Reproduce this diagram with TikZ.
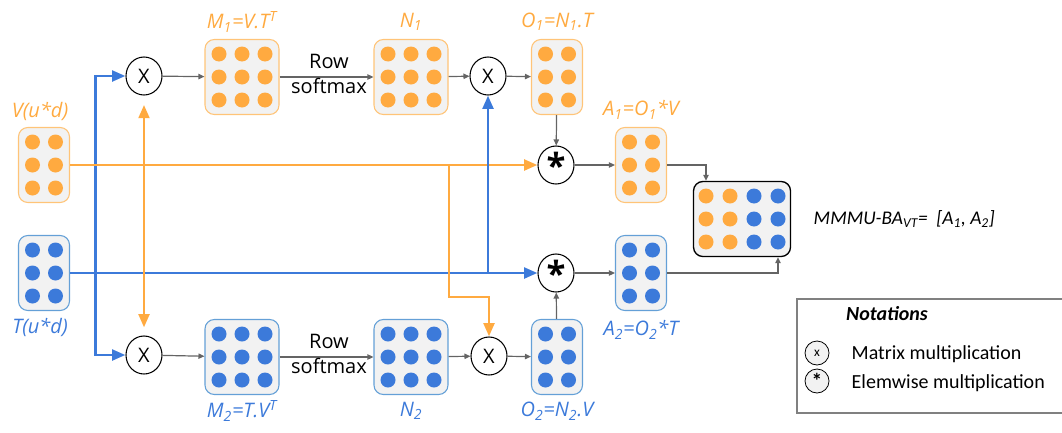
\documentclass[tikz,border=0pt]{standalone}
\usepackage{fontspec}
\setmainfont{Open Sans}
\newfontfamily\legendfont{Carlito}
\usetikzlibrary{arrows.meta,calc,shapes.geometric}

\definecolor{orangeC}{RGB}{255,170,64}
\definecolor{orangeB}{RGB}{255,196,120}
\definecolor{blueC}{RGB}{60,122,218}
\definecolor{blueB}{RGB}{100,160,215}
\definecolor{boxgray}{RGB}{242,242,242}
\definecolor{arrowgray}{RGB}{100,100,100}
\definecolor{legendgray}{RGB}{128,128,128}

\tikzset{
  mbox/.style={rounded corners=7pt, fill=boxgray, line width=0.8pt, minimum height=56.25pt, inner sep=0pt},
  obox/.style={mbox, draw=orangeB},
  bbox/.style={mbox, draw=blueB},
  kbox/.style={mbox, draw=black, line width=1pt},
  w2/.style={minimum width=38.25pt},
  w3/.style={minimum width=55.5pt},
  w4/.style={minimum width=72.75pt},
  op/.style={ellipse, draw, line width=0.8pt, fill=white, minimum width=27pt, minimum height=28.5pt, inner sep=0pt, font=\fontsize{15}{15}\selectfont},
  lop/.style={circle, draw, line width=0.6pt, fill=boxgray, minimum size=18pt, inner sep=0pt},
  olabel/.style={text=orangeC, font=\fontsize{15}{18}\selectfont\itshape, inner sep=0.75pt},
  blabel/.style={text=blueC, font=\fontsize{15}{18}\selectfont\itshape, inner sep=0.75pt},
  garrow/.style={draw=arrowgray, line width=0.9pt, -{Triangle[length=4.5pt,width=4pt]}},
  owire/.style={draw=orangeC, line width=2.2pt},
  bwire/.style={draw=blueC, line width=2.2pt},
  ctip/.style={-{Triangle[length=10pt,width=8pt]}}
}

% dots of a matrix box: node, columns, rows, colour
\newcommand{\matdots}[4]{%
  \foreach \i in {1,...,#2}{\foreach \j in {1,...,#3}{
    \fill [#4] ($(#1)+({(\i-(#2+1)/2)*23},{(\j-(#3+1)/2)*23})$) circle [radius=7.5];}}}
\newcommand{\opstar}{\fontsize{26}{26}\selectfont\bfseries\raisebox{-0.3em}{*}}

\begin{document}
\begin{tikzpicture}[x=0.75pt,y=0.75pt,yscale=-1,xscale=1]
\useasboundingbox (0,0) rectangle (1062,432);

%Matrix boxes
\node [obox,w2] (V) at (44,165) {};
\node [bbox,w2] (T) at (44,273) {};
\node [obox,w3] (M1) at (242,77) {};
\node [bbox,w3] (M2) at (242,357) {};
\node [obox,w3] (N1) at (411,77) {};
\node [bbox,w3] (N2) at (411,357) {};
\node [obox,w2] (O1) at (557,77) {};
\node [bbox,w2] (O2) at (557,357) {};
\node [obox,w2] (A1) at (641,165) {};
\node [bbox,w2] (A2) at (641,273) {};
\node [kbox,w4] (C) at (742,219) {};

%Dots
\matdots{V}{2}{3}{orangeC}
\matdots{T}{2}{3}{blueC}
\matdots{M1}{3}{3}{orangeC}
\matdots{M2}{3}{3}{blueC}
\matdots{N1}{3}{3}{orangeC}
\matdots{N2}{3}{3}{blueC}
\matdots{O1}{2}{3}{orangeC}
\matdots{O2}{2}{3}{blueC}
\matdots{A1}{2}{3}{orangeC}
\matdots{A2}{2}{3}{blueC}
\foreach \j in {-23,0,23}{
  \fill [orangeC] ($(C)+(-36,\j)$) circle [radius=7.5];
  \fill [orangeC] ($(C)+(-12,\j)$) circle [radius=7.5];
  \fill [blueC] ($(C)+(12,\j)$) circle [radius=7.5];
  \fill [blueC] ($(C)+(36,\j)$) circle [radius=7.5];}

%Operators
\node [op] (X1) at (144,76) {X};
\node [op] (X2) at (144,355) {X};
\node [op] (X3) at (488,76) {X};
\node [op] (X4) at (489,356) {X};
\node [op] (S1) at (556,165) {\opstar};
\node [op] (S2) at (556,273) {\opstar};

%Colour wires
\coordinate (tj) at (95.5,273);
\coordinate (oj) at (449,165);
\coordinate (ob) at (449,297);
\draw [bwire,ctip] (tj) |- (X1.west);
\draw [bwire,ctip] (tj) |- (X2.west);
\draw [bwire,ctip] (T.east) -- (S2.west);
\draw [owire,ctip] (V.east) -- (S1.west);
\draw [owire,{Triangle[length=10pt,width=8pt]}-{Triangle[length=10pt,width=8pt]},shorten <=7pt,shorten >=6pt] (X1.south) -- (X2.north);
\draw [owire,ctip] (oj) -- (ob) -| (X4.north);
\draw [bwire,ctip] (X3 |- T.east) -- (X3.south);

%Gray arrows
\draw [garrow] (X1) -- (M1);
\draw [garrow] (M1) -- (N1);
\draw [garrow] (N1) -- (X3);
\draw [garrow] (X3) -- (O1);
\draw [garrow] (O1) -- (S1);
\draw [garrow] (S1) -- (A1);
\draw [garrow] (X2) -- (M2);
\draw [garrow] (M2) -- (N2);
\draw [garrow] (N2) -- (X4);
\draw [garrow] (X4) -- (O2);
\draw [garrow] (O2) -- (S2);
\draw [garrow] (S2) -- (A2);
\coordinate (cin1) at ($(C.north)+(-36,0)$);
\coordinate (cin2) at ($(C.south)+(36,0)$);
\draw [garrow] (A1.east) -| (cin1);
\draw [garrow] (A2.east) -| (cin2);

% Text Node
\node [align=center, font=\fontsize{15}{19}\selectfont] (rs1) at (329,74) {Row\\softmax};
\node [align=center, font=\fontsize{15}{19}\selectfont] (rs2) at (329,354) {Row\\softmax};
\node [olabel] (lV) at (40,111) {V(u*d)};
\node [blabel] (lT) at (40,327) {T(u*d)};
\node [olabel] (lM1) at (242,22) {M\textsubscript{1}=V.T\textsuperscript{T}};
\node [olabel] (lN1) at (411,22) {N\textsubscript{1}};
\node [olabel] (lO1) at (557,22) {O\textsubscript{1}=N\textsubscript{1}.T};
\node [olabel] (lA1) at (641,110) {A\textsubscript{1}=O\textsubscript{1}*V};
\node [blabel] (lM2) at (242,411) {M\textsubscript{2}=T.V\textsuperscript{T}};
\node [blabel] (lN2) at (411,411) {N\textsubscript{2}};
\node [blabel] (lO2) at (557,411) {O\textsubscript{2}=N\textsubscript{2}.V};
\node [blabel] (lA2) at (641,330) {A\textsubscript{2}=O\textsubscript{2}*T};
\node [anchor=west, font=\legendfont\fontsize{14.5}{18}\selectfont\itshape] (res) at (809,219) {MMMU-BA\textsubscript{VT}=~~[A\textsubscript{1}, A\textsubscript{2}]};

%Legend
\draw [legendgray, line width=1pt] (797,299) rectangle (1070,413);
\node [font=\legendfont\fontsize{15}{18}\selectfont\bfseries\itshape] (lt) at (887,314) {Notations};
\node [lop, font=\legendfont\fontsize{10}{10}\selectfont] (lx) at (817,353) {x};
\node [lop, font=\legendfont\fontsize{16}{16}\selectfont\bfseries] (ls) at (817,381) {\raisebox{-0.3em}{*}};
\node [anchor=west, font=\legendfont\fontsize{15}{18}\selectfont] (lxt) at (847,354) {Matrix multiplication};
\node [anchor=west, font=\legendfont\fontsize{15}{18}\selectfont] (lst) at (847,383) {Elemwise multiplication};

\end{tikzpicture}
\end{document}
